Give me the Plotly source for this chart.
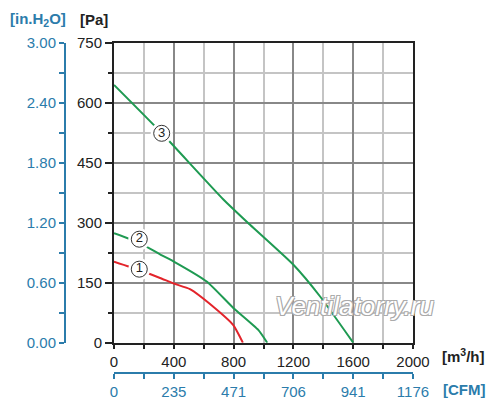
import plotly.graph_objects as go

# fan curves, flow in m3/h, pressure in Pa
q1 = [0, 170, 308, 400, 508, 664, 798, 862]
p1 = [203, 182, 162, 148, 134, 90, 44, 0]

q2 = [0, 170, 308, 400, 620, 798, 965, 1025]
p2 = [274, 250, 221, 203, 153, 87, 32, 0]

q3 = [0, 320, 730, 910, 1200, 1380, 1600]
p3 = [645, 524, 359, 295, 195, 115, 0]

# circled curve labels
lab_q = [169, 169, 319]
lab_p = [184, 259, 524]
lab_txt = ['1', '2', '3']

flow_ticks = [0, 400, 800, 1200, 1600, 2000]
cfm_ticks = ['0', '235', '471', '706', '941', '1176']
pa_ticks = [0, 150, 300, 450, 600, 750]
inh2o_ticks = ['0.00', '0.60', '1.20', '1.80', '2.40', '3.00']

blue = '#2b7cab'
green = '#1f9a52'
red = '#e3242b'
font = 'Liberation Sans, Arial, sans-serif'

fig = go.Figure()
fig.add_trace(go.Scatter(x=q1, y=p1, mode='lines', line=dict(color=red, width=2, shape='spline', smoothing=0.5)))
fig.add_trace(go.Scatter(x=q2, y=p2, mode='lines', line=dict(color=green, width=2, shape='spline', smoothing=0.5)))
fig.add_trace(go.Scatter(x=q3, y=p3, mode='lines', line=dict(color=green, width=2, shape='spline', smoothing=0.5)))
# white halo so the curves break around the labels
fig.add_trace(go.Scatter(x=lab_q, y=lab_p, mode='markers',
                         marker=dict(size=22, color='white'), cliponaxis=False))
fig.add_trace(go.Scatter(
    x=lab_q, y=lab_p, mode='markers+text', text=lab_txt,
    textposition='middle center', textfont=dict(family=font, size=13, color='#222'),
    marker=dict(size=16, color='white', line=dict(color='#333', width=1)),
    cliponaxis=False,
))
# dummy traces for the secondary axes
fig.add_trace(go.Scatter(x=[None], y=[None], yaxis='y2', showlegend=False))
fig.add_trace(go.Scatter(x=[None], y=[None], xaxis='x2', showlegend=False))

# page body has an 8px margin, so the figure is 8px smaller and shifted back
fig.update_layout(
    width=492, height=405,
    margin=dict(l=12, r=87, t=35, b=10),
    paper_bgcolor='white', plot_bgcolor='white',
    showlegend=False,
    font=dict(family=font, size=15, color='#222'),
    xaxis=dict(
        domain=[0.2392, 1], range=[0, 2000], tickvals=flow_ticks, automargin=False,
        showline=True, linecolor='#222', linewidth=2, mirror=True,
        ticks='outside', ticklen=4, tickwidth=1.5, tickcolor='#222',
        showgrid=True, gridcolor='#888', gridwidth=1.5, zeroline=False,
        minor=dict(dtick=200, showgrid=True, gridcolor='#c4c4c4', gridwidth=1.5,
                   ticks='outside', ticklen=4, tickcolor='#222'),
        tickfont=dict(size=15, color='#222'),
    ),
    yaxis=dict(
        domain=[0.1675, 1], range=[0, 750], tickvals=pa_ticks, automargin=False,
        showline=True, linecolor='#222', linewidth=2, mirror=True,
        ticks='outside', ticklen=7, tickwidth=1.5, tickcolor='#222',
        showgrid=True, gridcolor='#888', gridwidth=1.5, zeroline=False,
        minor=dict(dtick=75, showgrid=True, gridcolor='#c4c4c4', gridwidth=1.5,
                   ticks='outside', ticklen=4, tickcolor='#222'),
        tickfont=dict(size=15, color='#222'),
    ),
    yaxis2=dict(
        overlaying='y', anchor='free', position=0.1145, side='left', automargin=False,
        range=[0, 750], tickvals=pa_ticks, ticktext=inh2o_ticks,
        showline=True, linecolor=blue, linewidth=2,
        ticks='outside', ticklen=5, tickwidth=2, tickcolor=blue,
        minor=dict(dtick=75, ticks='outside', ticklen=5, tickcolor=blue, showgrid=False),
        showgrid=False, zeroline=False,
        tickfont=dict(size=15, color=blue),
    ),
    xaxis2=dict(
        overlaying='x', anchor='free', position=0.0825, side='bottom', automargin=False,
        range=[0, 2000], tickvals=flow_ticks, ticktext=cfm_ticks,
        showline=True, linecolor=blue, linewidth=2,
        ticks='outside', ticklen=5, tickwidth=2, tickcolor=blue,
        minor=dict(dtick=200, ticks='outside', ticklen=5, tickcolor=blue, showgrid=False),
        showgrid=False, zeroline=False,
        tickfont=dict(size=15, color=blue),
    ),
    annotations=[
        dict(text='<b>[in.H<sub>2</sub>O]</b>', xref='paper', yref='paper',
             x=(8 - 20) / 393, y=1 - (19 - 43) / 360, xanchor='left', yanchor='middle',
             showarrow=False, font=dict(size=15, color=blue)),
        dict(text='<b>[Pa]</b>', xref='paper', yref='paper',
             x=(78 - 20) / 393, y=1 - (19 - 43) / 360, xanchor='left', yanchor='middle',
             showarrow=False, font=dict(size=15, color='#222')),
        dict(text='<b>[m<sup>3</sup>/h]</b>', xref='paper', yref='paper',
             x=(440 - 20) / 393, y=1 - (355 - 43) / 360, xanchor='left', yanchor='middle',
             showarrow=False, font=dict(size=15, color='#222')),
        dict(text='<b>[CFM]</b>', xref='paper', yref='paper',
             x=(441 - 20) / 393, y=1 - (389 - 43) / 360, xanchor='left', yanchor='middle',
             showarrow=False, font=dict(size=15, color=blue)),
        dict(text='<i>Ventilatorry.ru</i>', xref='x', yref='y', x=1612, y=92,
             showarrow=False,
             font=dict(size=26, color='white',
                       shadow='-1px -1px 0 #aaa, 1px -1px 0 #aaa, -1px 1px 0 #aaa, 1px 1px 0 #aaa')),
    ],
)

fig.write_html('out.html')
